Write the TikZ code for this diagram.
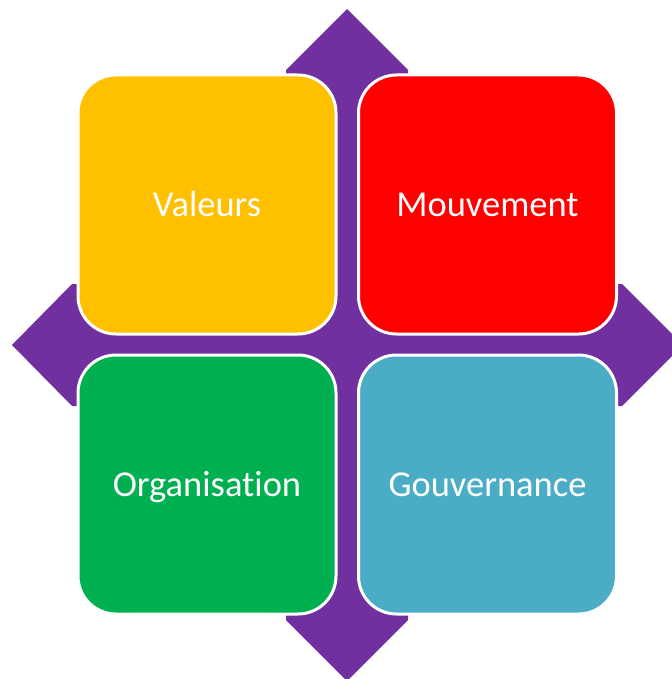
\documentclass[tikz,border=0pt]{standalone}
\usepackage{fontspec}
\setmainfont[Ligatures=NoCommon]{Carlito}
\definecolor{violet}{HTML}{7030A0}
\definecolor{jaune}{HTML}{FFC000}
\definecolor{rouge}{HTML}{FF0000}
\definecolor{vert}{HTML}{00B050}
\definecolor{bleu}{HTML}{4BACC6}
\begin{document}
\begin{tikzpicture}[x=1pt,y=-1pt,
	bloc/.style={draw=white,line width=3pt,rounded corners=38pt,
		minimum width=258pt,minimum height=259pt,inner sep=0pt,
		text height=23pt,text depth=0pt,
		text=white,font=\fontsize{36.5}{44}\selectfont}]
	\useasboundingbox (0,0) rectangle (671,679);
	% croix violette
	\fill[violet] (347,9) -- (408,70) -- (408,284) -- (622,284) -- (683,345)
		-- (622,406) -- (408,406) -- (408,620) -- (347,681) -- (286,620)
		-- (286,406) -- (72,406) -- (12,345) -- (72,284) -- (286,284)
		-- (286,70) -- cycle;
	% blocs
	\node[bloc,fill=jaune] (valeurs) at (207,204.5) {Valeurs};
	\node[bloc,fill=rouge] (mouvement) at (487.5,204.5) {Mouvement};
	\node[bloc,fill=vert] (organisation) at (207,484.5) {Organisation};
	\node[bloc,fill=bleu] (gouvernance) at (487.5,484.5) {Gouvernance};
\end{tikzpicture}
\end{document}
